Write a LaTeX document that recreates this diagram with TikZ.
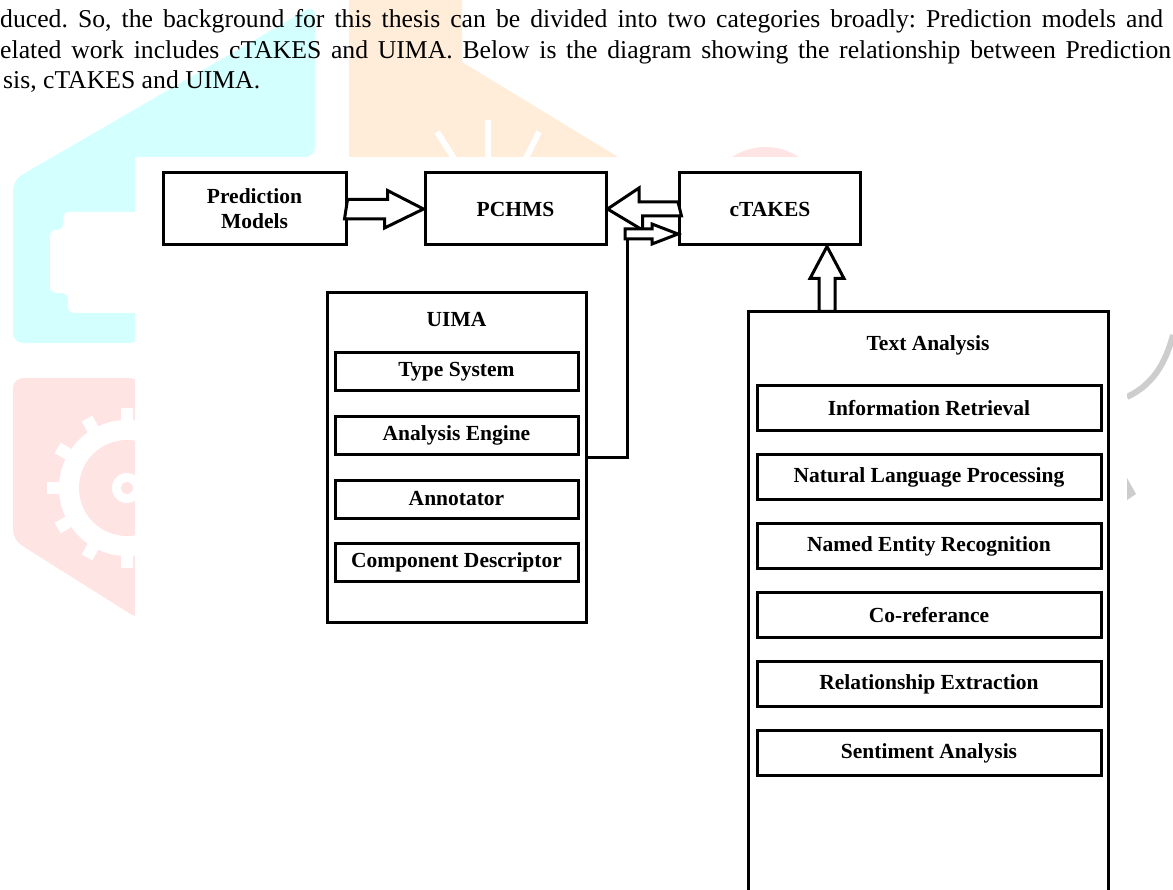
\documentclass[tikz,border=0pt]{standalone}
\usepackage{fontspec}
\setmainfont{Liberation Serif}
\usetikzlibrary{positioning,calc}
\definecolor{wmcyan}{RGB}{212,255,255}
\definecolor{wmorange}{RGB}{255,236,217}
\definecolor{wmpink}{RGB}{255,228,228}
\definecolor{wmgray}{RGB}{205,205,205}
\tikzset{
    bigbox/.style={rectangle, draw=black, line width=3pt, inner sep=0pt},
    itembox/.style={rectangle, draw=black, line width=3pt, inner sep=0pt, font=\fontsize{21.5}{25}\selectfont\bfseries},
    boxtitle/.style={inner sep=0pt, font=\fontsize{21.5}{25}\selectfont\bfseries},
    hollow/.style={draw=black, fill=white, line width=3pt, line join=miter},
    link/.style={draw=black, line width=3pt},
    bodyline/.style={anchor=base west, inner sep=0pt, font=\fontsize{25.7}{30}\selectfont\frenchspacing}
}

\begin{document}
\begin{tikzpicture}[x=1pt,y=1pt]
\useasboundingbox (0,0) rectangle (1173,-890);
\clip (0,0) rectangle (1173,-890);

% watermark behind the text
\fill[wmcyan, rounded corners=10pt] (13,-343) -- (13,-180) -- (315,-5) -- (315,-157) -- (140,-157) -- (140,-343) -- cycle;
\fill[white, rounded corners=6pt] (63,-212) -- (140,-212) -- (140,-313) -- (68,-313) -- (68,-293) -- (50,-293) -- (50,-230) -- (63,-230) -- cycle;
\fill[wmorange] (349,0) -- (462,0) -- (462,-62) -- (618,-157) -- (349,-157) -- cycle;
\draw[white, line width=6pt] (437,-132) -- (455,-160);
\draw[white, line width=6pt] (488,-120) -- (488,-160);
\draw[white, line width=6pt] (539,-132) -- (525,-160);
\fill[wmpink] (765.5,-208) circle (61);
\fill[wmpink, rounded corners=10pt] (13,-540) -- (13,-378) -- (140,-378) -- (140,-620) -- cycle;
\fill[white] (127,-488) circle (68);
\foreach \a in {0,30,...,330}
  \fill[white, rotate around={\a:(127,-488)}] (187,-482) rectangle (207,-494);
\fill[wmpink] (127,-488) circle (48);
\fill[white] (127,-488) circle (15);
\fill[wmpink] (127,-488) circle (6);
\draw[wmgray, line width=6pt] (1127,-397) .. controls (1152,-385) and (1165,-365) .. (1173,-335);
\fill[wmgray] (1127,-478) -- (1136,-494) -- (1127,-500) -- cycle;
\fill[white] (135,-157) rectangle (1127,-895);

% text above the diagram
\node[bodyline] (line2) at (0,-28) {\makebox[1163pt][s]{duced. So, the background for this thesis can be divided into two categories broadly: Prediction models and}};
\node[bodyline] (line3) at (0,-58.5) {\makebox[1171pt][s]{elated work includes cTAKES and UIMA. Below is the diagram showing the relationship between Prediction}};
\node[bodyline] (line4) at (3,-89) {sis, cTAKES and UIMA.};

% top row
\node[itembox, minimum width=183pt, minimum height=72pt, align=center] (pm) at (254.5,-209) {Prediction\\Models};
\node[itembox, minimum width=181pt, minimum height=72pt] (pchms) at (515.5,-209) {PCHMS};
\node[itembox, minimum width=181pt, minimum height=72pt] (ctakes) at (770,-209) {cTAKES};

% UIMA
\node[bigbox, minimum width=259pt, minimum height=329pt] (uima) at (456.5,-457.5) {};
\node[boxtitle] (uima-t) at ([yshift=-28pt]uima.north) {UIMA};
\foreach \name/\txt [count=\i] in {ts/Type System, ae/Analysis Engine, an/Annotator, cd/Component Descriptor}
  \node[itembox, minimum width=243pt, minimum height=38pt] (\name) at (456.5,{-372-63.5*(\i-1)}) {\txt};

% Text Analysis
\node[bigbox, minimum width=360pt, minimum height=600pt, anchor=north] (ta) at (928,-310) {};
\node[boxtitle] (ta-t) at ([yshift=-35pt]ta.north) {Text Analysis};
\foreach \name/\txt [count=\i] in {ir/Information Retrieval, nlp/Natural Language Processing, ner/Named Entity Recognition, coref/Co-referance, rel/Relationship Extraction, sent/Sentiment Analysis}
  \node[itembox, minimum width=344pt, minimum height=45pt] (\name) at (929,{-408-69*(\i-1)}) {\txt};

% block arrows
\draw[hollow] ($(pm.east)+(0,9.5)$) -- ++(40,0) -- ++(0,9) -- (pchms.west) -- ++(-39,-19) -- ++(0,9) -- ++(-40,0) -- cycle;
\draw[hollow] ($(ctakes.west)+(0,7)$) -- ++(-39,0) -- ++(0,14) -- (pchms.east) -- ++(35,-21) -- ++(0,14) -- ++(39,0) -- cycle;

\coordinate (ae-in) at ($(ctakes.west)+(0,-25)$);
\coordinate (ae-tail) at ($(ae-in)+(-51,-5)$);
\draw[link] (uima.east) -| (ae-tail);
\draw[hollow] (ae-in) -- ++(-26,10) -- ++(0,-5) -- ++(-27,0) -- ++(0,-10) -- ++(27,0) -- ++(0,-5) -- cycle;

\coordinate (ta-out) at ($(ctakes.south)+(57,0)$);
\draw[hollow] (ta-out) -- ++(17,-32) -- ++(-9,0) -- ++(0,-33) -- ++(-16,0) -- ++(0,33) -- ++(-9,0) -- cycle;

\end{tikzpicture}
\end{document}
